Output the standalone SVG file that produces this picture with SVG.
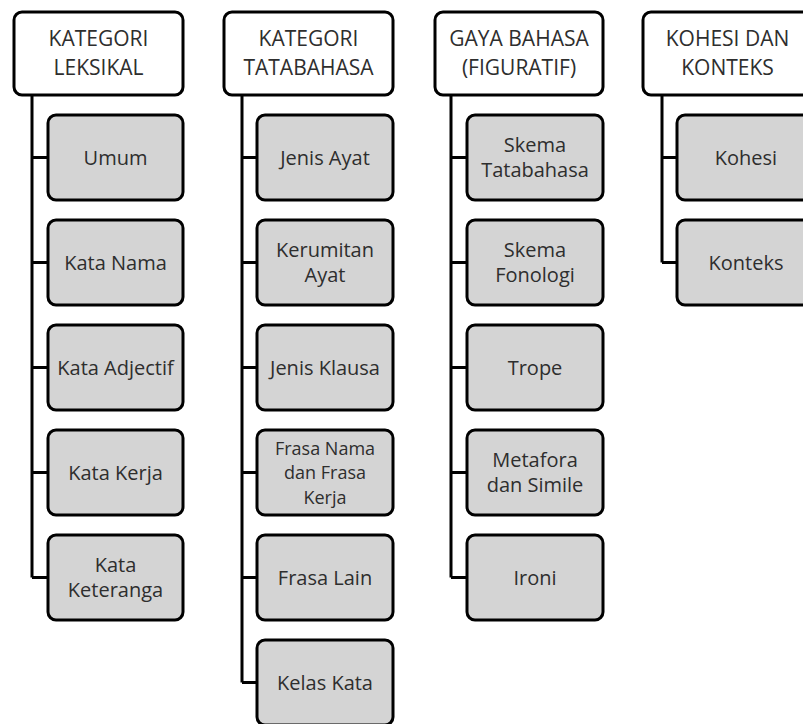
<svg xmlns="http://www.w3.org/2000/svg" width="803" height="724" viewBox="0 0 803 724">
<style>
.hdr{fill:#ffffff;stroke:#000;stroke-width:3}
.box{fill:#d4d4d4;stroke:#000;stroke-width:3}
.con{fill:none;stroke:#000;stroke-width:3}
text{font-family:"Open Sans","Liberation Sans",sans-serif;font-size:20px;fill:#2e2e2e;text-anchor:middle}
.ht{font-size:21px}
.sm{font-size:18px}
</style>
<rect width="803" height="724" fill="#ffffff"/>
<g id="connectors">
<path class="con" d="M32,95V577.5M32,157.5H48M32,262.5H48M32,367.5H48M32,472.5H48M32,577.5H48"/>
<path class="con" d="M242,95V682.5M242,157.5H257M242,262.5H257M242,367.5H257M242,472.5H257M242,577.5H257M242,682.5H257"/>
<path class="con" d="M451,95V577.5M451,157.5H467M451,262.5H467M451,367.5H467M451,472.5H467M451,577.5H467"/>
<path class="con" d="M662,95V262.5M662,157.5H677M662,262.5H677"/>
</g>
<g id="h1"><rect class="hdr" x="14" y="12" width="169" height="83" rx="8"/><text class="ht" x="98.5" y="45.5">KATEGORI</text><text class="ht" x="98.5" y="74.5">LEKSIKAL</text></g>
<g id="c1a"><rect class="box" x="48" y="115" width="135" height="85" rx="8"/><text x="115.5" y="164.5">Umum</text></g>
<g id="c1b"><rect class="box" x="48" y="220" width="135" height="85" rx="8"/><text x="115.5" y="269.5">Kata Nama</text></g>
<g id="c1c"><rect class="box" x="48" y="325" width="135" height="85" rx="8"/><text x="115.5" y="374.5">Kata Adjectif</text></g>
<g id="c1d"><rect class="box" x="48" y="430" width="135" height="85" rx="8"/><text x="115.5" y="479.5">Kata Kerja</text></g>
<g id="c1e"><rect class="box" x="48" y="535" width="135" height="85" rx="8"/><text x="115.5" y="572">Kata</text><text x="115.5" y="597">Keteranga</text></g>

<g id="h2"><rect class="hdr" x="224" y="12" width="169" height="83" rx="8"/><text class="ht" x="308.5" y="45.5">KATEGORI</text><text class="ht" x="308.5" y="74.5">TATABAHASA</text></g>
<g id="c2a"><rect class="box" x="257" y="115" width="136" height="85" rx="8"/><text x="325" y="164.5">Jenis Ayat</text></g>
<g id="c2b"><rect class="box" x="257" y="220" width="136" height="85" rx="8"/><text x="325" y="257">Kerumitan</text><text x="325" y="282">Ayat</text></g>
<g id="c2c"><rect class="box" x="257" y="325" width="136" height="85" rx="8"/><text x="325" y="374.5">Jenis Klausa</text></g>
<g id="c2d"><rect class="box" x="257" y="430" width="136" height="85" rx="8"/><text class="sm" x="325" y="454.5">Frasa Nama</text><text class="sm" x="325" y="479">dan Frasa</text><text class="sm" x="325" y="503.5">Kerja</text></g>
<g id="c2e"><rect class="box" x="257" y="535" width="136" height="85" rx="8"/><text x="325" y="584.5">Frasa Lain</text></g>
<g id="c2f"><rect class="box" x="257" y="640" width="136" height="85" rx="8"/><text x="325" y="689.5">Kelas Kata</text></g>

<g id="h3"><rect class="hdr" x="435" y="12" width="168" height="83" rx="8"/><text class="ht" x="519" y="45.5">GAYA  BAHASA</text><text class="ht" x="519" y="74.5">(FIGURATIF)</text></g>
<g id="c3a"><rect class="box" x="467" y="115" width="136" height="85" rx="8"/><text x="535" y="152">Skema</text><text x="535" y="177">Tatabahasa</text></g>
<g id="c3b"><rect class="box" x="467" y="220" width="136" height="85" rx="8"/><text x="535" y="257">Skema</text><text x="535" y="282">Fonologi</text></g>
<g id="c3c"><rect class="box" x="467" y="325" width="136" height="85" rx="8"/><text x="535" y="374.5">Trope</text></g>
<g id="c3d"><rect class="box" x="467" y="430" width="136" height="85" rx="8"/><text x="535" y="467">Metafora</text><text x="535" y="492">dan Simile</text></g>
<g id="c3e"><rect class="box" x="467" y="535" width="136" height="85" rx="8"/><text x="535" y="584.5">Ironi</text></g>

<g id="h4"><rect class="hdr" x="643" y="12" width="169" height="83" rx="8"/><text class="ht" x="727.5" y="45.5">KOHESI DAN</text><text class="ht" x="727.5" y="74.5">KONTEKS</text></g>
<g id="c4a"><rect class="box" x="677" y="115" width="135" height="85" rx="8"/><text x="746" y="164.5">Kohesi</text></g>
<g id="c4b"><rect class="box" x="677" y="220" width="135" height="85" rx="8"/><text x="746" y="269.5">Konteks</text></g>
</svg>
